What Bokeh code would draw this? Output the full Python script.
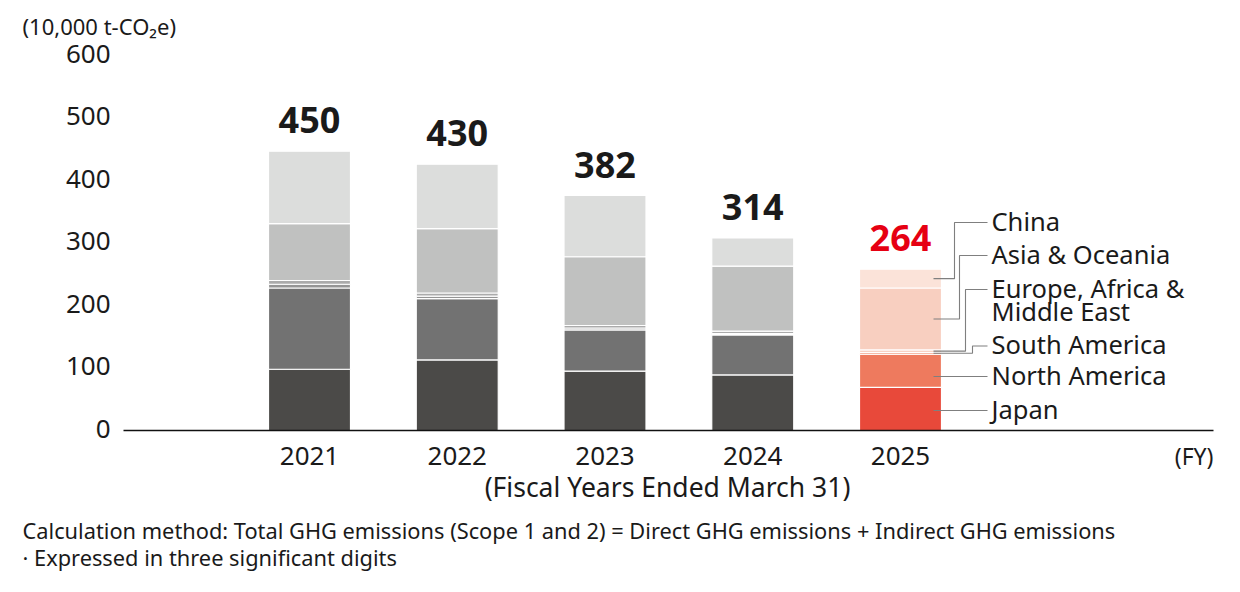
from bokeh.plotting import figure
from bokeh.models import Range1d, ColumnDataSource
from bokeh.core.properties import value
from bokeh.embed import file_html
from bokeh.resources import INLINE

# ---------------- data ----------------
years = ["2021", "2022", "2023", "2024", "2025"]
series_names = ["Japan", "North America", "South America",
                "Europe, Africa & Middle East", "Asia & Oceania", "China"]
japan = [98, 113, 95, 89, 69]
north_america = [130, 98, 66, 64, 53]
south_america = [6, 4, 3, 2, 3]
europe_africa_me = [6, 5, 4, 4, 4]
asia_oceania = [91, 103, 110, 104, 99]
china = [116, 103, 98, 45, 30]
total_labels = ["450", "430", "382", "314", "264"]
y_ticks = [0, 100, 200, 300, 400, 500, 600]
y_tick_labels = ["0", "100", "200", "300", "400", "500", "600"]

series_values = [japan, north_america, south_america, europe_africa_me, asia_oceania, china]
gray_colors = ["#4b4a48", "#727272", "#959595", "#ababab", "#c0c1c0", "#dcdddc"]
red_colors = ["#e8493a", "#ee7a5e", "#f3a48c", "#f6c3b2", "#f8cfc0", "#fbe3d9"]

FONT = "Noto Sans"
TXT = "#1a1a1a"
DY = -2  # small upward nudge for middle-baseline texts

# pixel -> data helpers (layout only)
X0, DX = 309.0, 147.75
Y0, K = 430.0, 0.625
W, H = 1232, 584


def px_x(px):
    return (px - X0) / DX


def px_y(py):
    return (Y0 - py) / K


p = figure(width=W, height=H, output_backend="svg", toolbar_location=None,
           x_range=Range1d(px_x(0), px_x(W)), y_range=Range1d(px_y(H), px_y(0)),
           x_axis_location=None, y_axis_location=None,
           min_border_left=0, min_border_right=0, min_border_top=0, min_border_bottom=0,
           title=None)
p.outline_line_color = None
p.grid.visible = False
p.background_fill_color = "white"

# y tick labels (value axis)
p.text(x=[px_x(110)] * len(y_ticks), y=y_ticks, text=y_tick_labels, text_align="right",
       text_baseline="middle", y_offset=DY, text_font=value(FONT), text_font_size="26px",
       text_color=TXT)

# ---------------- stacked bars ----------------
idx = list(range(len(years)))
bottoms = [0.0] * len(years)
mids_2025 = []
for s, vals in enumerate(series_values):
    tops = [b + v for b, v in zip(bottoms, vals)]
    colors = [red_colors[s] if i == len(years) - 1 else gray_colors[s] for i in idx]
    src = ColumnDataSource(dict(x=idx, bottom=list(bottoms), top=tops, color=colors))
    p.vbar(x="x", width=0.555, bottom="bottom", top="top", source=src,
           fill_color="color", line_color="white", line_width=1.2)
    mids_2025.append((bottoms[-1] + tops[-1]) / 2.0)
    bottoms = tops

totals = bottoms
# baseline
p.segment(x0=[px_x(123)], y0=[0], x1=[px_x(1213)], y1=[0], line_color="#111111", line_width=1.6)

# total labels
p.text(x=idx, y=totals, text=total_labels, text_align="center", text_baseline="middle",
       y_offset=-31, text_font=value(FONT), text_font_style="bold", text_font_size="36px",
       text_color=[TXT, TXT, TXT, TXT, "#e60012"])

# year labels
p.text(x=idx, y=[px_y(457)] * len(years), text=years, text_align="center", text_baseline="middle",
       y_offset=DY, text_font=value(FONT), text_font_size="26px", text_color=TXT)
p.text(x=[px_x(1213)], y=[px_y(457)], text=["(FY)"], text_align="right", text_baseline="middle",
       y_offset=DY, text_font=value(FONT), text_font_size="23px", text_color=TXT)
p.text(x=[px_x(667)], y=[px_y(488)], text=["(Fiscal Years Ended March 31)"], text_align="center",
       text_baseline="middle", y_offset=DY, text_font=value(FONT), text_font_size="26.5px",
       text_color=TXT)

# ---------------- legend with leader lines ----------------
legend_text_y = [410, 376, 345.5, 289, 255, 222]        # page px, per series
elbow_x = [None, None, 972, 965, 959, 954]              # page px
straight = [True, True, False, False, False, False]
xs, ys = [], []
for s in range(len(series_names)):
    ty = px_y(legend_text_y[s])
    if straight[s]:
        xs.append([px_x(933), px_x(987)])
        ys.append([ty, ty])
    else:
        my = mids_2025[s]
        ex = px_x(elbow_x[s])
        xs.append([px_x(933), ex, ex, px_x(987)])
        ys.append([my, my, ty, ty])
p.multi_line(xs=xs, ys=ys, line_color="#7f7f7f", line_width=1.1)

leg_txt = ["Japan", "North America", "South America", "Europe, Africa &", "Asia & Oceania", "China"]
p.text(x=[px_x(991)] * len(leg_txt), y=[px_y(v) for v in legend_text_y], text=leg_txt,
       text_align="left", text_baseline="middle", y_offset=DY, text_font=value(FONT),
       text_font_size="25.5px", text_color=TXT)
p.text(x=[px_x(991)], y=[px_y(312)], text=["Middle East"], text_align="left", text_baseline="middle",
       y_offset=DY, text_font=value(FONT), text_font_size="25.5px", text_color=TXT)

# ---------------- unit label and notes ----------------
p.text(x=[px_x(22)], y=[px_y(27)], text=["(10,000 t-CO\u2082e)"], text_align="left",
       text_baseline="middle", y_offset=DY, text_font=value(FONT), text_font_size="22px",
       text_color=TXT)
p.text(x=[px_x(22)], y=[px_y(532)],
       text=["Calculation method: Total GHG emissions (Scope 1 and 2) = Direct GHG emissions + Indirect GHG emissions"],
       text_align="left", text_baseline="middle", y_offset=DY, text_font=value(FONT),
       text_font_size="21.8px", text_color=TXT)
p.text(x=[px_x(22)], y=[px_y(559)], text=["\u00b7 Expressed in three significant digits"],
       text_align="left", text_baseline="middle", y_offset=DY, text_font=value(FONT),
       text_font_size="21.8px", text_color=TXT)

open("out.html", "w").write(file_html(p, INLINE))
